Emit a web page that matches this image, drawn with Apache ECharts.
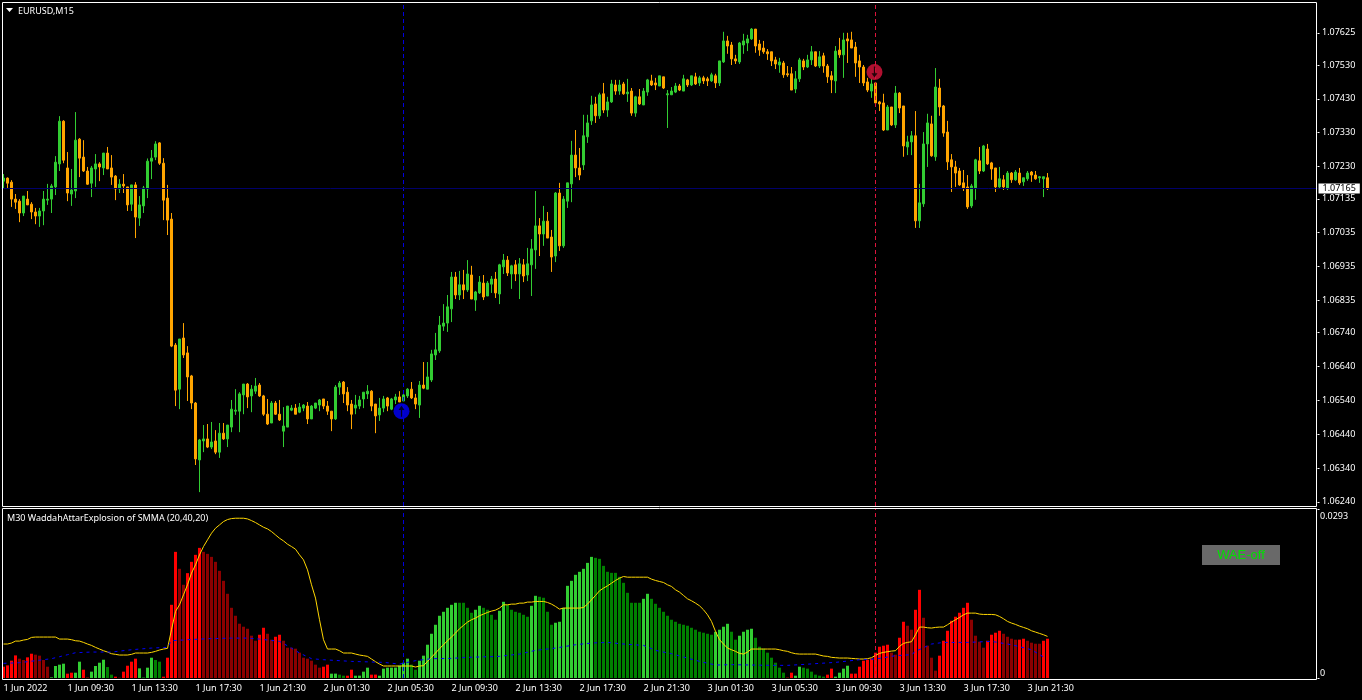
<!DOCTYPE html>
<html>
<head>
<meta charset="utf-8">
<title>EURUSD,M15</title>
<script src="https://cdn.jsdelivr.net/npm/echarts@6/dist/echarts.min.js"></script>
<style>
  html, body { margin: 0; padding: 0; background: #000; }
  #chart { width: 1362px; height: 700px; }
</style>
</head>
<body>
<div id="chart"></div>
<script>
// prices are stored in points above 1.00000, 7165 means 1.07165
const opens = [
  7187,7196,7184,7134,7128,7093,7134,7119,7096,7084,
  7099,7131,7134,7170,7238,7364,7226,7149,7158,7311,
  7258,7217,7181,7223,7238,7226,7270,7226,7202,7164,
  7178,7170,7119,7176,7078,7114,7164,7246,7258,7300,
  7240,7137,7075,6703,6573,6724,6680,6612,6532,6364,
  6420,6426,6402,6420,6387,6443,6426,6461,6508,6508,
  6556,6588,6553,6567,6585,6553,6499,6473,6532,6499,
  6449,6461,6511,6517,6505,6517,6523,6485,6517,6526,
  6544,6523,6508,6485,6579,6594,6564,6529,6517,6523,
  6544,6559,6567,6529,6497,6517,6547,6514,6541,6550,
  6538,6553,6573,6547,6526,6585,6573,6600,6674,6686,
  6759,6768,6810,6904,6851,6881,6866,6910,6836,6857,
  6886,6848,6883,6898,6854,6934,6954,6913,6940,6913,
  6940,6910,6940,6984,7055,7031,7069,7022,6966,7152,
  6996,7128,7179,7264,7226,7235,7318,7365,7415,7380,
  7445,7397,7421,7471,7453,7474,7445,7453,7388,7436,
  7412,7450,7483,7477,7468,7495,7442,7442,7450,7468,
  7453,7486,7471,7495,7477,7492,7489,7483,7498,7477,
  7539,7601,7589,7548,7539,7589,7595,7607,7636,7592,
  7580,7569,7569,7545,7530,7536,7504,7504,7459,7489,
  7542,7524,7545,7569,7527,7557,7527,7498,7483,7574,
  7560,7607,7604,7583,7542,7524,7480,7453,7477,7421,
  7418,7338,7406,7353,7447,7409,7288,7303,7321,7070,
  7120,7297,7356,7259,7462,7409,7332,7250,7229,7217,
  7182,7170,7114,7167,7247,7217,7282,7241,7226,7170,
  7191,7167,7211,7191,7211,7185,7194,7214,7205,7197,7194,7197
];
const closes = [
  7196,7181,7134,7125,7093,7143,7117,7096,7084,7099,
  7134,7134,7173,7243,7364,7249,7152,7161,7308,7255,
  7217,7178,7226,7238,7229,7270,7223,7199,7164,7178,
  7173,7117,7176,7081,7117,7167,7246,7255,7297,7240,
  7131,7072,6700,6570,6721,6674,6609,6532,6367,6423,
  6426,6402,6417,6387,6443,6426,6467,6514,6511,6559,
  6588,6550,6573,6582,6553,6499,6470,6532,6499,6482,
  6464,6523,6517,6499,6520,6526,6485,6523,6532,6541,
  6523,6508,6485,6579,6591,6559,6526,6499,6526,6541,
  6564,6567,6523,6494,6517,6544,6523,6544,6550,6535,
  6556,6573,6547,6529,6585,6576,6609,6677,6689,6762,
  6768,6816,6904,6851,6881,6866,6913,6839,6860,6889,
  6845,6886,6898,6857,6940,6954,6916,6937,6913,6943,
  6907,6943,6987,7055,7031,7069,7019,6963,7152,6996,
  7134,7182,7264,7226,7205,7321,7359,7412,7380,7442,
  7397,7421,7474,7453,7471,7445,7450,7388,7436,7415,
  7453,7486,7471,7471,7498,7462,7445,7453,7468,7456,
  7489,7471,7498,7474,7492,7483,7483,7501,7477,7542,
  7601,7586,7548,7542,7595,7601,7607,7636,7586,7574,
  7569,7563,7542,7533,7539,7501,7501,7456,7489,7545,
  7524,7545,7569,7527,7554,7527,7495,7486,7571,7560,
  7604,7601,7580,7536,7524,7477,7456,7474,7418,7415,
  7338,7406,7353,7447,7403,7291,7303,7321,7070,7123,
  7297,7359,7262,7465,7406,7329,7244,7229,7211,7176,
  7167,7111,7173,7250,7217,7291,7238,7223,7170,7194,
  7170,7211,7191,7214,7182,7197,7211,7205,7194,7200,7200,7165
];
const lows = [
  7166,7167,7111,7105,7066,7084,7117,7075,7060,7052,
  7057,7117,7093,7146,7217,7240,7128,7114,7137,7199,
  7214,7176,7140,7170,7187,7205,7223,7176,7131,7152,
  7152,7099,7099,7019,7055,7093,7137,7193,7249,7235,
  7072,7028,6697,6523,6514,6665,6538,6514,6349,6269,
  6387,6399,6396,6381,6370,6423,6402,6446,6497,6446,
  6499,6517,6505,6559,6550,6494,6467,6473,6497,6479,
  6402,6461,6508,6499,6502,6508,6470,6485,6514,6508,
  6514,6497,6449,6482,6556,6532,6508,6455,6499,6514,
  6517,6544,6508,6443,6479,6505,6508,6511,6529,6535,
  6538,6547,6544,6514,6488,6573,6573,6594,6659,6680,
  6745,6742,6771,6839,6836,6839,6860,6839,6804,6854,
  6836,6848,6857,6842,6824,6913,6907,6869,6892,6839,
  6889,6892,6848,6928,6966,6996,7019,6919,6948,6981,
  6990,7108,7125,7199,7190,7220,7300,7353,7359,7371,
  7388,7377,7418,7442,7442,7442,7421,7380,7377,7412,
  7412,7439,7468,7456,7468,7459,7344,7442,7447,7453,
  7453,7465,7468,7471,7468,7474,7468,7480,7462,7468,
  7536,7563,7530,7533,7533,7563,7571,7604,7566,7557,
  7563,7545,7527,7518,7507,7492,7495,7456,7447,7480,
  7515,7521,7530,7524,7521,7507,7477,7447,7447,7551,
  7492,7536,7580,7495,7477,7468,7450,7433,7415,7394,
  7335,7338,7350,7344,7388,7259,7264,7264,7049,7049,
  7111,7229,7259,7247,7380,7318,7220,7155,7170,7173,
  7158,7105,7108,7132,7208,7214,7235,7191,7155,7167,
  7161,7161,7182,7188,7176,7173,7188,7185,7191,7182,7140,7161
];
const highs = [
  7208,7198,7190,7149,7134,7143,7158,7125,7108,7108,
  7158,7179,7179,7261,7379,7367,7273,7223,7391,7314,
  7308,7229,7232,7267,7243,7270,7288,7264,7205,7193,
  7208,7170,7176,7184,7143,7173,7254,7279,7305,7302,
  7255,7176,7093,6709,6721,6768,6700,6615,6535,6426,
  6467,6470,6476,6452,6473,6473,6467,6541,6573,6564,
  6588,6591,6585,6606,6591,6556,6544,6538,6538,6541,
  6520,6523,6526,6529,6532,6529,6535,6526,6532,6544,
  6544,6538,6508,6585,6597,6597,6579,6541,6556,6553,
  6564,6585,6570,6529,6547,6553,6550,6547,6559,6567,
  6562,6576,6594,6559,6597,6653,6653,6689,6739,6789,
  6824,6851,6919,6919,6922,6925,6954,6937,6863,6907,
  6910,6892,6907,6919,6943,6972,6966,6940,6954,6960,
  6957,6990,7016,7158,7078,7114,7096,7043,7155,7182,
  7143,7182,7306,7338,7285,7383,7383,7439,7436,7448,
  7477,7436,7486,7486,7486,7480,7489,7462,7439,7459,
  7462,7489,7501,7492,7498,7495,7456,7465,7477,7474,
  7501,7489,7498,7507,7498,7498,7495,7507,7504,7542,
  7628,7616,7598,7560,7598,7622,7619,7639,7636,7604,
  7601,7577,7569,7554,7551,7542,7527,7524,7512,7551,
  7548,7560,7586,7569,7571,7566,7533,7512,7586,7610,
  7625,7625,7628,7598,7560,7530,7492,7489,7480,7424,
  7445,7412,7406,7468,7450,7409,7321,7335,7394,7179,
  7332,7386,7380,7521,7489,7412,7365,7267,7247,7226,
  7220,7205,7179,7253,7288,7294,7297,7244,7226,7229,
  7205,7217,7214,7220,7226,7197,7217,7217,7217,7202,7200,7211
];

// indicator values in 0.00001 units, negative bars are the red (down) trend
const waeTrend = [
  -196,-219,-300,-392,-335,-312,-358,-421,-404,-387,-312,-196,
  12,208,231,248,-75,-92,92,283,-144,-12,
  110,208,265,317,190,58,-23,-6,-110,-213,-283,-335,
  167,12,179,352,312,283,
  -23,-352,-1269,-2187,-1893,-1616,-1818,-2014,-2135,-2256,-2187,-2152,-2100,-2014,-1858,-1685,-1460,-1217,-1079,-941,
  -889,-854,-733,-646,-750,-871,-767,-664,-715,-750,-646,-525,-525,-508,-439,-352,-335,-300,-231,-179,-196,-231,
  75,76,58,40,-40,-144,40,41,110,179,-58,-59,
  40,162,179,180,181,213,265,335,231,144,300,387,577,767,923,1079,1148,1217,1269,1304,1304,1304,1217,1131,1183,1252,
  1217,1183,1096,1010,1166,1321,1269,1183,1148,1131,1096,1062,1252,1425,1408,1391,1148,923,958,975,1217,1598,1685,1789,
  1841,1893,1996,2100,2083,2066,1944,1841,1823,1823,1754,1650,1477,1304,1304,1304,1373,1460,1373,1287,1217,1148,1079,1010,
  975,940,923,906,871,837,802,
  785,767,750,802,837,889,940,802,664,733,802,837,854,698,542,508,439,352,265,179,92,
  -6,-92,40,196,179,162,110,58,40,23,-58,-162,23,92,162,213,
  -75,-76,-196,-300,-317,-335,-439,-542,-560,-577,-439,-404,-698,-975,-906,-837,-1183,-1529,-1044,-560,
  -352,-127,-387,-646,-819,-992,-1062,-1131,-1217,-1304,-1010,-733,-629,-525,-646,-750,-785,-819,-767,-715,
  -681,-664,-665,-681,-646,-612,-594,-594,-646,-681
];
const explosionLine = [
  589,589,606,640,640,658,669,704,710,710,710,710,710,710,675,675,675,664,646,640,
  617,589,565,531,502,473,450,421,410,398,398,398,410,433,433,433,433,444,462,485,
  502,514,837,1154,1269,1443,1616,1818,1962,2135,2279,2395,2510,2597,2654,2712,2747,2764,2770,2770,
  2770,2758,2729,2695,2654,2614,2585,2539,2481,2423,2377,2320,2279,2233,2135,2048,1875,1616,1385,1010,
  664,502,502,502,473,433,433,433,415,398,387,375,329,283,242,208,208,208,208,208,
  208,208,208,190,208,213,288,358,433,508,577,646,710,779,854,912,969,1010,1039,1079,
  1108,1137,1160,1177,1212,1269,1269,1281,1281,1298,1298,1316,1316,1327,1327,1327,1310,1281,1241,1194,
  1212,1212,1212,1212,1212,1223,1281,1356,1431,1512,1558,1598,1644,1691,1731,1760,1748,1748,1748,1748,
  1748,1748,1714,1691,1673,1656,1616,1587,1529,1489,1431,1373,1339,1298,1252,1183,1096,981,808,664,
  589,519,490,462,427,415,450,502,502,502,502,502,502,502,490,473,462,438,421,415,
  415,415,415,415,398,381,375,358,352,346,346,346,340,335,329,329,335,352,392,427,
  444,456,467,473,548,600,617,629,750,883,883,871,866,877,883,883,923,969,1010,1050,
  1096,1125,1125,1125,1108,1102,1102,1102,1096,1067,1027,981,952,929,900,877,854,819,796,773,
  750,721
];
// dead zone line, read at these bars only
const deadZoneBars = [0,4,8,12,14,16,18,22,27,32,37,41,42,46,51,57,61,64,69,72,74,77,80,87,95,99,103,107,112,116,124,129,133,138,143,147,151,155,160,163,167,170,174,178,182,187,192,196,199,208,214,218,223,227,228,232,235,241,247,252,257,260];
const deadZone = [254,265,300,335,369,404,438,450,450,490,519,531,646,664,681,692,692,675,635,519,433,335,317,288,271,242,300,335,340,358,375,415,479,519,577,606,617,589,565,479,421,364,288,225,231,225,219,219,231,271,317,329,387,404,462,589,617,617,635,577,490,364];

const timeLabels = ['1 Jun 2022','1 Jun 09:30','1 Jun 13:30','1 Jun 17:30','1 Jun 21:30','2 Jun 01:30','2 Jun 05:30','2 Jun 09:30','2 Jun 13:30','2 Jun 17:30','2 Jun 21:30','3 Jun 01:30','3 Jun 05:30','3 Jun 09:30','3 Jun 13:30','3 Jun 17:30','3 Jun 21:30'];
const priceTicks = [1.07625,1.07530,1.07430,1.07330,1.07230,1.07135,1.07035,1.06935,1.06835,1.06740,1.06640,1.06540,1.06440,1.06340,1.06240];
const waeTicks = [0, 2930];
const lastPrice = 1.07165;
const buyBar = 100, buyPrice = 1.06508;
const sellBar = 218, sellPrice = 1.07509;

const FONT = 'Noto Sans';
const ARROW = 'path://M5 0 L10 6 L6 6 L6 15 L4 15 L4 6 L0 6 Z';
const SLOTS = 329;  // chart shift leaves room right of the last bar

const toPrice = v => +(1 + v / 100000).toFixed(5);
const categories = [];
for (let i = 0; i < SLOTS; i++) categories.push(i % 16 === 0 && timeLabels[i / 16] ? timeLabels[i / 16] : '');
const isLabelled = i => i % 16 === 0 && i / 16 < timeLabels.length;

const candles = opens.map((o, i) => [toPrice(o), toPrice(closes[i]), toPrice(lows[i]), toPrice(highs[i])]);

function waeColor(params) {
  const i = params.dataIndex;
  const v = waeTrend[i];
  const up = v > 0;
  const rising = i === 0 || (waeTrend[i - 1] > 0) !== up || Math.abs(v) > Math.abs(waeTrend[i - 1]);
  if (up) return rising ? '#32CD32' : '#008000';
  return rising ? '#FF0000' : '#8B0000';
}

function guide(xIndex, yIndex, bar, color) {
  return {
    type: 'line', xAxisIndex: xIndex, yAxisIndex: yIndex, data: [], z: 1, silent: true,
    markLine: {
      silent: true, symbol: 'none', animation: false, label: { show: false },
      lineStyle: { color: color, width: 1, type: [4, 3] },
      data: [{ xAxis: bar }]
    }
  };
}

const chart = echarts.init(document.getElementById('chart'));
chart.setOption({
  animation: false,
  backgroundColor: '#000',
  title: [
    { text: 'EURUSD,M15', left: 18, top: 7, padding: 0, textStyle: { color: '#fff', fontFamily: FONT, fontSize: 9, fontWeight: 'normal' } },
    { text: 'M30 WaddahAttarExplosion of SMMA (20,40,20)', left: 7, top: 514, padding: 0, textStyle: { color: '#fff', fontFamily: FONT, fontSize: 9, fontWeight: 'normal' } }
  ],
  grid: [
    { left: 1.5, top: 3, width: 1316, height: 503 },
    { left: 1.5, top: 509, width: 1316, height: 169 }
  ],
  xAxis: [
    { type: 'category', gridIndex: 0, data: categories, show: false },
    {
      type: 'category', gridIndex: 1, data: categories, offset: 1,
      axisLine: { show: false },
      axisTick: { interval: (i) => isLabelled(i), alignWithLabel: true, length: 3, lineStyle: { color: '#fff' } },
      axisLabel: { interval: (i) => isLabelled(i), align: 'left', color: '#fff', fontFamily: FONT, fontSize: 9, margin: 5 },
      splitLine: { show: false }
    }
  ],
  yAxis: [
    {
      type: 'value', gridIndex: 0, position: 'right', min: 1.06228, max: 1.07713, scale: true,
      axisLine: { show: false }, splitLine: { show: false },
      axisTick: { show: true, length: 2, customValues: priceTicks, lineStyle: { color: '#fff' } },
      axisLabel: { customValues: priceTicks, formatter: v => v.toFixed(5), color: '#fff', fontFamily: FONT, fontSize: 9, margin: 4.5, align: 'left', padding: [6, 0, 0, 0] }
    },
    {
      type: 'value', gridIndex: 1, position: 'right', min: 0, max: 2930,
      axisLine: { show: false }, splitLine: { show: false },
      axisTick: { show: true, length: 2, customValues: waeTicks, lineStyle: { color: '#fff' } },
      axisLabel: {
        customValues: waeTicks, formatter: v => (v ? (v / 100000).toFixed(4) : '0'),
        color: '#fff', fontFamily: FONT, fontSize: 9, margin: 2.5, align: 'left', padding: [3, 0, 0, 0],
        verticalAlignMaxLabel: 'top', verticalAlignMinLabel: 'bottom'
      }
    }
  ],
  series: [
    guide(0, 0, buyBar, '#0000e0'),
    guide(0, 0, sellBar, '#DC143C'),
    guide(1, 1, buyBar, '#0000e0'),
    guide(1, 1, sellBar, '#DC143C'),
    {
      type: 'line', xAxisIndex: 0, yAxisIndex: 0, data: [], z: 1, silent: true,
      markLine: {
        silent: true, symbol: 'none', animation: false, precision: 5,
        lineStyle: { color: '#00006a', width: 1, type: 'solid' },
        label: {
          show: true, position: 'end', distance: 1, formatter: () => lastPrice.toFixed(5),
          backgroundColor: '#fff', color: '#000', fontFamily: FONT, fontSize: 9, padding: [1, 4, 0, 4]
        },
        data: [{ yAxis: lastPrice }]
      }
    },
    {
      type: 'candlestick', xAxisIndex: 0, yAxisIndex: 0, data: candles, barWidth: 2,
      itemStyle: { color: '#32CD32', color0: '#FFA500', borderColor: '#32CD32', borderColor0: '#FFA500', borderWidth: 1 }
    },
    { type: 'scatter', xAxisIndex: 0, yAxisIndex: 0, data: [[buyBar, buyPrice]], symbol: 'circle', symbolSize: 16, symbolOffset: [-2, 0], itemStyle: { color: '#0000FF' }, z: 4 },
    { type: 'scatter', xAxisIndex: 0, yAxisIndex: 0, data: [[buyBar, buyPrice]], symbol: ARROW, symbolSize: [6, 11], symbolOffset: [-2, 0], itemStyle: { color: '#000' }, z: 5 },
    { type: 'scatter', xAxisIndex: 0, yAxisIndex: 0, data: [[sellBar, sellPrice]], symbol: 'circle', symbolSize: 16, symbolOffset: [-1, 0], itemStyle: { color: '#DC143C' }, z: 4 },
    { type: 'scatter', xAxisIndex: 0, yAxisIndex: 0, data: [[sellBar, sellPrice]], symbol: ARROW, symbolRotate: 180, symbolSize: [6, 11], symbolOffset: [-1, 0], itemStyle: { color: '#000' }, z: 5 },
    {
      type: 'bar', xAxisIndex: 1, yAxisIndex: 1, barWidth: 3, data: waeTrend.map(Math.abs),
      itemStyle: { color: waeColor }
    },
    {
      type: 'line', xAxisIndex: 1, yAxisIndex: 1, data: explosionLine, showSymbol: false, z: 3,
      lineStyle: { color: '#FFD700', width: 1 }
    },
    {
      type: 'line', xAxisIndex: 1, yAxisIndex: 1, data: deadZoneBars.map((b, i) => [b, deadZone[i]]), showSymbol: false, z: 3,
      lineStyle: { color: '#0000FF', width: 1, type: [3, 4] }
    }
  ],
  graphic: [
    { type: 'rect', silent: true, z: 20, shape: { x: 2.5, y: 2.5, width: 1314, height: 504 }, style: { fill: null, stroke: '#fff', lineWidth: 1 } },
    { type: 'rect', silent: true, z: 20, shape: { x: 2.5, y: 508.5, width: 1314, height: 171 }, style: { fill: null, stroke: '#fff', lineWidth: 1 } },
    { type: 'polygon', silent: true, z: 20, shape: { points: [[6, 8], [13, 8], [9.5, 12]] }, style: { fill: '#fff' } },
    { type: 'rect', silent: true, z: 20, shape: { x: 1202, y: 545, width: 78, height: 20 }, style: { fill: '#696969' } },
    { type: 'text', silent: true, z: 21, style: { x: 1241, y: 555, text: 'WAE-off', fill: '#00E000', font: '13px "Liberation Sans"', textAlign: 'center', textVerticalAlign: 'middle' } }
  ]
});
</script>
</body>
</html>
